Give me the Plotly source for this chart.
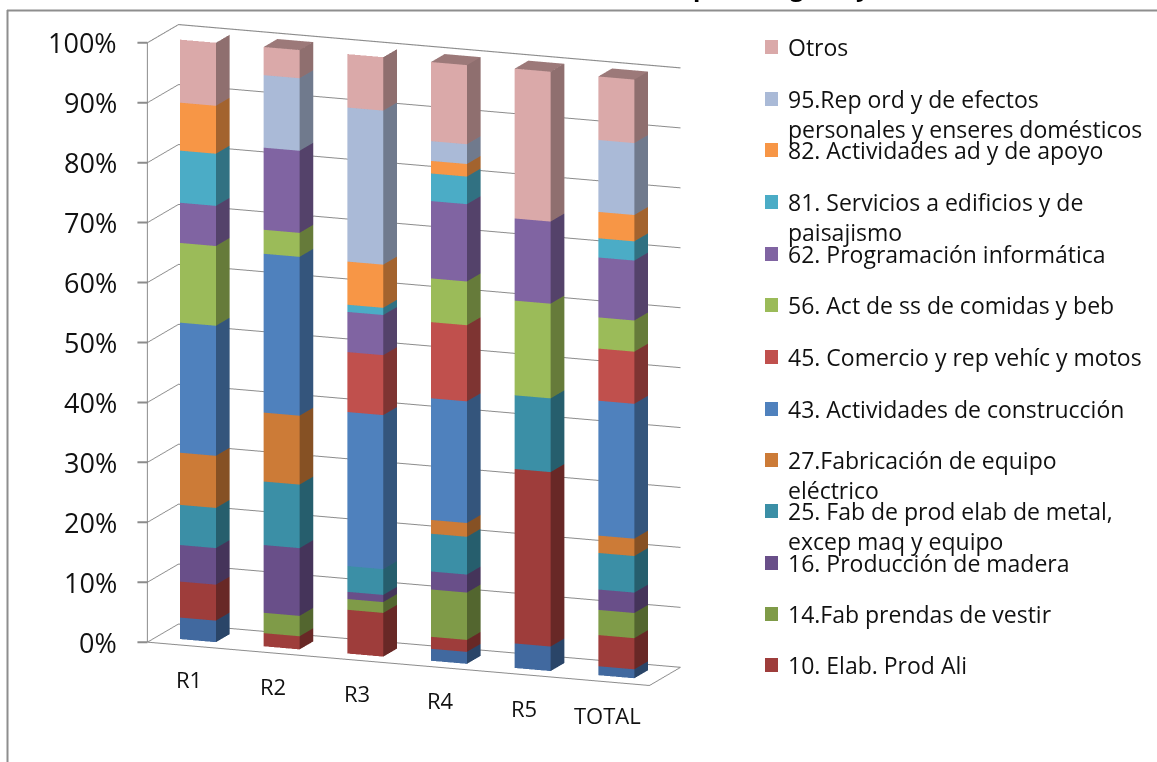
import plotly.graph_objects as go

W, H = 1157, 762

categories = ["R1", "R2", "R3", "R4", "R5", "TOTAL"]
tick_labels = ["0%", "10%", "20%", "30%", "40%", "50%", "60%", "70%", "80%", "90%", "100%"]
tick_values = [0, 10, 20, 30, 40, 50, 60, 70, 80, 90, 100]

# Stacked shares, bottom of the stack first (per category)
s_base = [3.6, 0.0, 0.0, 2.0, 4.1, 1.5]          # lowest series: its legend row is outside the picture
s_10 = [6.0, 2.2, 7.3, 2.0, 29.1, 5.2]
s_14 = [0.0, 3.4, 1.8, 7.9, 0.0, 4.2]
s_16 = [6.1, 11.3, 1.2, 3.0, 0.0, 3.4]
s_25 = [6.7, 10.6, 4.3, 6.3, 12.3, 6.1]
s_27 = [8.7, 11.5, 0.0, 2.3, 0.0, 2.9]
s_43 = [21.7, 26.5, 25.7, 20.3, 0.0, 22.5]
s_45 = [0.0, 0.0, 10.0, 12.7, 0.0, 8.7]
s_56 = [13.3, 4.0, 0.0, 7.3, 15.8, 5.2]
s_62 = [6.7, 13.7, 6.7, 12.9, 13.7, 10.0]
s_81 = [8.7, 0.0, 1.2, 4.6, 0.0, 3.2]
s_82 = [8.0, 0.0, 7.2, 2.1, 0.0, 4.4]
s_95 = [0.0, 12.1, 25.7, 3.3, 0.0, 12.0]
s_otros = [10.6, 4.7, 9.0, 13.2, 25.0, 10.6]

series = [
    ("Serie inferior", s_base, "#41699F"),
    ("10. Elab. Prod Ali", s_10, "#9E3D3B"),
    ("14.Fab prendas de vestir", s_14, "#7F9B48"),
    ("16. Producción de madera", s_16, "#694F89"),
    ("25. Fab de prod elab de metal,<br>excep maq y equipo", s_25, "#3B8FA6"),
    ("27.Fabricación de equipo<br>eléctrico", s_27, "#CC7B37"),
    ("43. Actividades de construcción", s_43, "#4F81BD"),
    ("45. Comercio y rep vehíc y motos", s_45, "#C0504D"),
    ("56. Act de ss de comidas y beb", s_56, "#9BBB59"),
    ("62. Programación informática", s_62, "#8064A2"),
    ("81. Servicios a edificios y de<br>paisajismo", s_81, "#4BACC6"),
    ("82. Actividades ad y de apoyo", s_82, "#F79646"),
    ("95.Rep ord y de efectos<br>personales y enseres domésticos", s_95, "#AABAD7"),
    ("Otros", s_otros, "#DAA9A9"),
]

legend_rows_y = [47, 99, 150, 202, 254, 305, 357, 409, 460, 511, 563, 614, 665]
FONT = "Open Sans"
GREY = "#8C8C8C"
BAR_W = 0.43
DEPTH = (0.28, 0.72)


def shade(hex_color, f):
    r, g, b = (int(hex_color[i:i + 2], 16) for i in (1, 3, 5))
    return "rgb(%d,%d,%d)" % (r * f, g * f, b * f)


fig = go.Figure()

for pos, (name, values, color) in enumerate(series):
    xs, ys, zs, ii, jj, kk, fc = [], [], [], [], [], [], []

    def quad(p, c):
        n = len(xs)
        for a, b, d in p:
            xs.append(a); ys.append(b); zs.append(d)
        ii.extend([n, n]); jj.extend([n + 1, n + 2]); kk.extend([n + 2, n + 3])
        fc.extend([c, c])

    for idx, v in enumerate(values):
        if v <= 0:
            continue
        base = sum(sv[idx] for _, sv, _ in series[:pos])
        top = base + v
        x0, x1 = idx + 0.5 - BAR_W / 2, idx + 0.5 + BAR_W / 2
        y0, y1 = DEPTH
        quad([(x0, y0, base), (x1, y0, base), (x1, y0, top), (x0, y0, top)], color)
        quad([(x1, y0, base), (x1, y1, base), (x1, y1, top), (x1, y0, top)], shade(color, 0.66))
        quad([(x0, y0, top), (x1, y0, top), (x1, y1, top), (x0, y1, top)], shade(color, 0.72))
    fig.add_trace(go.Mesh3d(
        x=xs, y=ys, z=zs, i=ii, j=jj, k=kk, facecolor=fc, name=name, flatshading=True,
        lighting=dict(ambient=1, diffuse=0, specular=0, fresnel=0, roughness=1),
        hoverinfo="skip", showscale=False,
    ))

# Axis labels and tick marks anchored to data positions on the scene's axes
scene_notes = []
for value, label in zip(tick_values, tick_labels):
    scene_notes.append(dict(x=0, y=0, z=value, text=label, showarrow=False, xanchor="right", yanchor="middle",
                            xshift=-28, font=dict(family=FONT, size=27, color="#111")))
    scene_notes.append(dict(x=0, y=0, z=value, text=" ", showarrow=True, ax=-13, ay=0, arrowhead=0, standoff=0,
                            arrowwidth=2, arrowcolor=GREY))
for idx, label in enumerate(categories):
    scene_notes.append(dict(x=idx + 0.5, y=0, z=0, text=label, showarrow=False, xanchor="center", yanchor="middle",
                            yshift=-33, font=dict(family=FONT, size=22, color="#111")))
for b in range(len(categories) + 1):
    scene_notes.append(dict(x=b, y=0, z=0, text=" ", showarrow=True, ax=0, ay=9, arrowhead=0, standoff=0,
                            arrowwidth=2, arrowcolor=GREY))

axis_common = dict(showbackground=False, showspikes=False, title=dict(text=""), zeroline=False,
                   showticklabels=False, ticks="")
scene = dict(
    domain=dict(x=[0, 828 / W], y=[1 - 710 / H, 1]),
    aspectmode="manual",
    aspectratio=dict(x=1.515, y=0.244, z=1.733),
    camera=dict(eye=dict(x=0.580, y=-1.510, z=0.373), center=dict(x=0, y=0, z=0), up=dict(x=0, y=0, z=1),
                projection=dict(type="orthographic")),
    xaxis=dict(axis_common, range=[0, len(categories)], tickvals=[i + 0.5 for i in range(len(categories))],
               showgrid=False, showline=True, mirror=True, linecolor=GREY, linewidth=2),
    yaxis=dict(axis_common, range=[0, 1], showgrid=False, showline=True,
               mirror=True, linecolor=GREY, linewidth=2),
    zaxis=dict(axis_common, range=[0, 100.02], tickvals=tick_values, showgrid=True,
               gridcolor=GREY, gridwidth=2, showline=True, linecolor=GREY, linewidth=2),
    annotations=scene_notes,
)

shapes = [
    dict(type="line", xref="paper", yref="paper", x0=7 / W, x1=1, y0=1 - 10.5 / H, y1=1 - 10.5 / H,
         line=dict(color="#8E8E8E", width=2)),
    dict(type="line", xref="paper", yref="paper", x0=7.5 / W, x1=7.5 / W, y0=0, y1=1 - 10 / H,
         line=dict(color="#8E8E8E", width=2)),
]
annotations = []
legend_series = [s for s in series[1:]][::-1]
for (name, _, color), yc in zip(legend_series, legend_rows_y):
    shapes.append(dict(type="rect", xref="paper", yref="paper", x0=765 / W, x1=778 / W,
                       y0=1 - (yc + 7) / H, y1=1 - (yc - 7) / H, fillcolor=color, line=dict(width=0)))
    annotations.append(dict(xref="paper", yref="paper", x=787 / W, y=1 - (yc - 17) / H, text=name,
                            showarrow=False, xanchor="left", yanchor="top", align="left",
                            borderpad=0, font=dict(family=FONT, size=23, color="#111")))

# The chart title is cut off by the picture's top edge: only these descenders can be read
for letter, xc in (("p", 700), ("g", 797), ("y", 863)):
    annotations.append(dict(xref="paper", yref="paper", x=xc / W, y=1 + 31 / H, text="<b>%s</b>" % letter,
                            showarrow=False, xanchor="center", yanchor="top", borderpad=0,
                            font=dict(family=FONT, size=24, color="#000")))

fig.update_layout(
    width=W, height=H, margin=dict(l=0, r=0, t=0, b=0), paper_bgcolor="white", showlegend=False,
    scene=scene, shapes=shapes, annotations=annotations,
)

fig.write_html("out.html", config=dict(displayModeBar=False),
               post_script="document.body.style.margin='0';document.documentElement.style.overflow='hidden';")
